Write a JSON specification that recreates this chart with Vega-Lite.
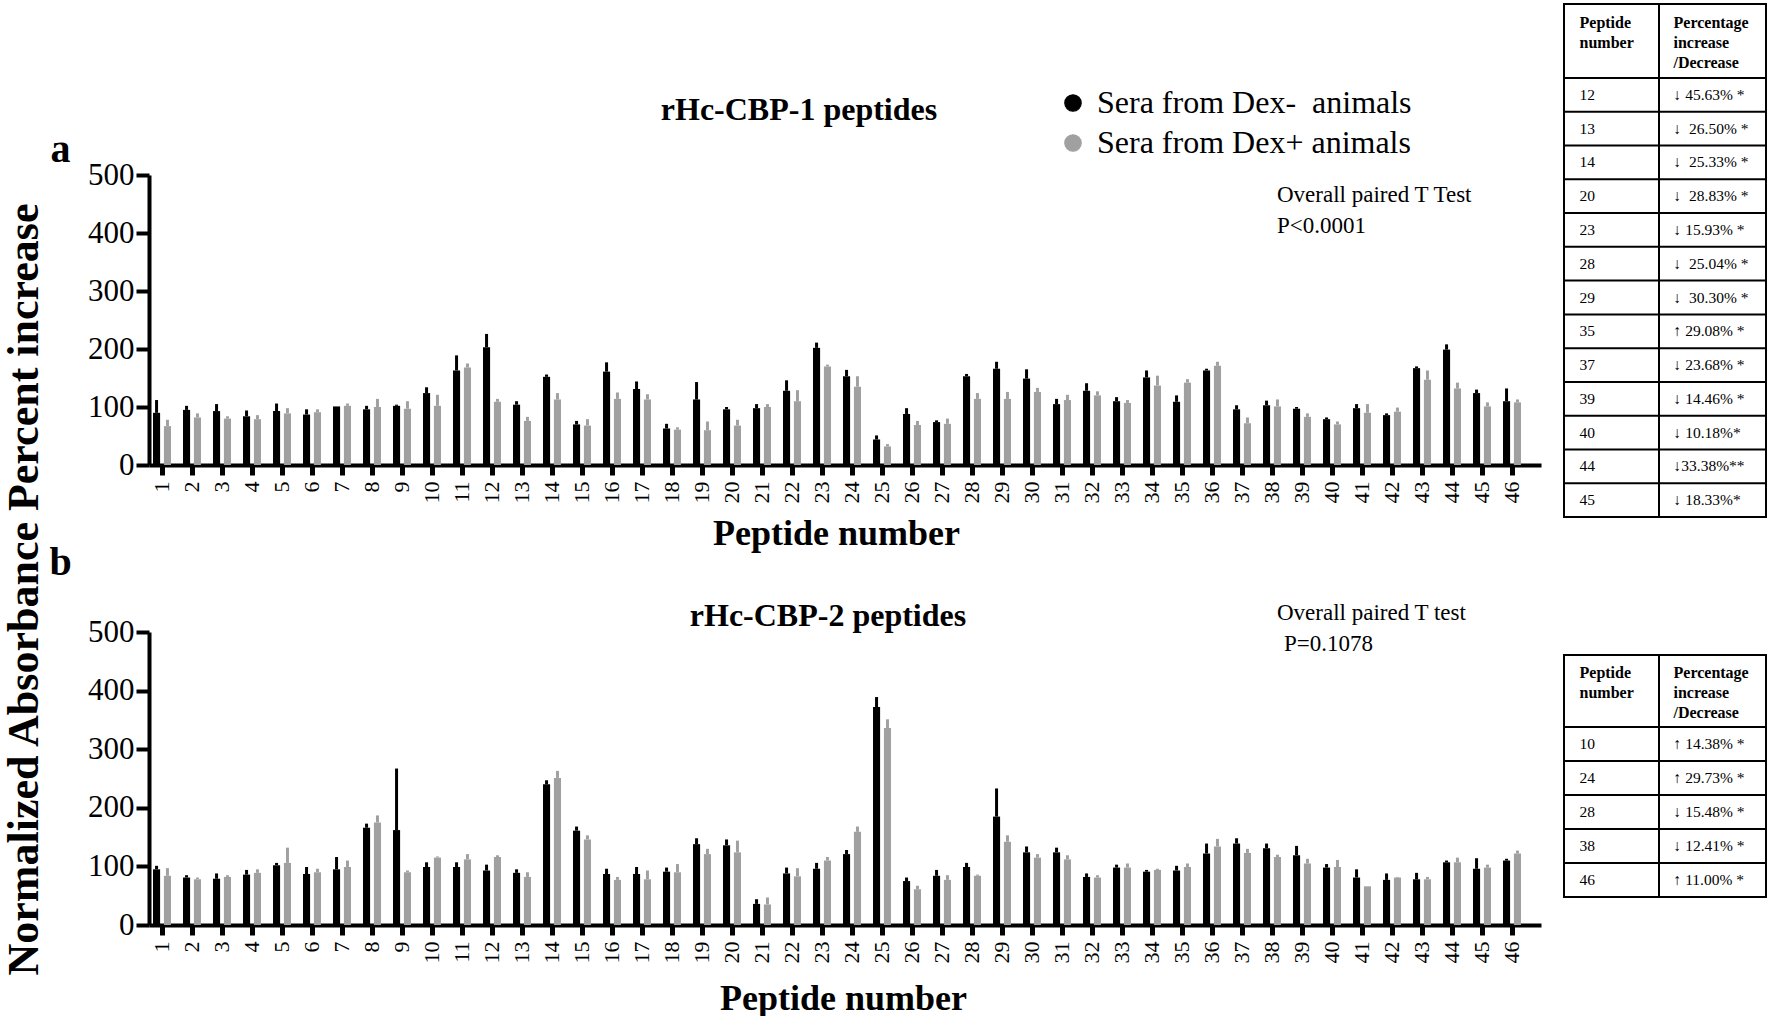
{
  "$schema": "https://vega.github.io/schema/vega-lite/v6.json",
  "background": "white",
  "padding": {"left": 2, "top": 3, "right": 0, "bottom": 0},
  "title": {"text": "Normalized Absorbance Percent increase", "orient": "left", "anchor": "middle", "fontSize": 44, "font": "Liberation Serif", "fontWeight": "bold", "offset": 2, "dx": -80, "color": "black"},
  "config": {
    "view": {"stroke": null},
    "axis": {"domainColor": "black", "tickColor": "black", "labelColor": "black", "titleColor": "black", "labelFont": "Liberation Serif", "titleFont": "Liberation Serif", "grid": false},
    "text": {"font": "Liberation Serif", "color": "black"},
    "legend": {"labelFont": "Liberation Serif", "labelColor": "black"}
  },
  "datasets": {
    "bars": [
      {"panel":"a","peptide":1,"serum":"Dex-","value":90,"upper":112},{"panel":"a","peptide":1,"serum":"Dex+","value":67,"upper":78},
      {"panel":"a","peptide":2,"serum":"Dex-","value":95,"upper":102},{"panel":"a","peptide":2,"serum":"Dex+","value":82,"upper":89},
      {"panel":"a","peptide":3,"serum":"Dex-","value":93,"upper":105},{"panel":"a","peptide":3,"serum":"Dex+","value":80,"upper":84},
      {"panel":"a","peptide":4,"serum":"Dex-","value":84,"upper":94},{"panel":"a","peptide":4,"serum":"Dex+","value":79,"upper":86},
      {"panel":"a","peptide":5,"serum":"Dex-","value":93,"upper":106},{"panel":"a","peptide":5,"serum":"Dex+","value":89,"upper":98},
      {"panel":"a","peptide":6,"serum":"Dex-","value":87,"upper":96},{"panel":"a","peptide":6,"serum":"Dex+","value":91,"upper":96},
      {"panel":"a","peptide":7,"serum":"Dex-","value":101,"upper":101},{"panel":"a","peptide":7,"serum":"Dex+","value":102,"upper":106},
      {"panel":"a","peptide":8,"serum":"Dex-","value":96,"upper":102},{"panel":"a","peptide":8,"serum":"Dex+","value":100,"upper":114},
      {"panel":"a","peptide":9,"serum":"Dex-","value":102,"upper":104},{"panel":"a","peptide":9,"serum":"Dex+","value":97,"upper":110},
      {"panel":"a","peptide":10,"serum":"Dex-","value":124,"upper":134},{"panel":"a","peptide":10,"serum":"Dex+","value":102,"upper":121},
      {"panel":"a","peptide":11,"serum":"Dex-","value":163,"upper":189},{"panel":"a","peptide":11,"serum":"Dex+","value":168,"upper":175},
      {"panel":"a","peptide":12,"serum":"Dex-","value":203,"upper":226},{"panel":"a","peptide":12,"serum":"Dex+","value":109,"upper":114},
      {"panel":"a","peptide":13,"serum":"Dex-","value":104,"upper":110},{"panel":"a","peptide":13,"serum":"Dex+","value":76,"upper":83},
      {"panel":"a","peptide":14,"serum":"Dex-","value":152,"upper":156},{"panel":"a","peptide":14,"serum":"Dex+","value":113,"upper":124},
      {"panel":"a","peptide":15,"serum":"Dex-","value":70,"upper":76},{"panel":"a","peptide":15,"serum":"Dex+","value":68,"upper":79},
      {"panel":"a","peptide":16,"serum":"Dex-","value":161,"upper":177},{"panel":"a","peptide":16,"serum":"Dex+","value":114,"upper":125},
      {"panel":"a","peptide":17,"serum":"Dex-","value":131,"upper":144},{"panel":"a","peptide":17,"serum":"Dex+","value":113,"upper":122},
      {"panel":"a","peptide":18,"serum":"Dex-","value":63,"upper":71},{"panel":"a","peptide":18,"serum":"Dex+","value":61,"upper":65},
      {"panel":"a","peptide":19,"serum":"Dex-","value":113,"upper":143},{"panel":"a","peptide":19,"serum":"Dex+","value":60,"upper":75},
      {"panel":"a","peptide":20,"serum":"Dex-","value":96,"upper":100},{"panel":"a","peptide":20,"serum":"Dex+","value":68,"upper":78},
      {"panel":"a","peptide":21,"serum":"Dex-","value":98,"upper":105},{"panel":"a","peptide":21,"serum":"Dex+","value":100,"upper":105},
      {"panel":"a","peptide":22,"serum":"Dex-","value":128,"upper":146},{"panel":"a","peptide":22,"serum":"Dex+","value":110,"upper":129},
      {"panel":"a","peptide":23,"serum":"Dex-","value":202,"upper":211},{"panel":"a","peptide":23,"serum":"Dex+","value":170,"upper":173},
      {"panel":"a","peptide":24,"serum":"Dex-","value":153,"upper":164},{"panel":"a","peptide":24,"serum":"Dex+","value":135,"upper":153},
      {"panel":"a","peptide":25,"serum":"Dex-","value":44,"upper":51},{"panel":"a","peptide":25,"serum":"Dex+","value":32,"upper":36},
      {"panel":"a","peptide":26,"serum":"Dex-","value":88,"upper":98},{"panel":"a","peptide":26,"serum":"Dex+","value":69,"upper":76},
      {"panel":"a","peptide":27,"serum":"Dex-","value":74,"upper":77},{"panel":"a","peptide":27,"serum":"Dex+","value":71,"upper":80},
      {"panel":"a","peptide":28,"serum":"Dex-","value":153,"upper":157},{"panel":"a","peptide":28,"serum":"Dex+","value":114,"upper":124},
      {"panel":"a","peptide":29,"serum":"Dex-","value":166,"upper":178},{"panel":"a","peptide":29,"serum":"Dex+","value":114,"upper":126},
      {"panel":"a","peptide":30,"serum":"Dex-","value":149,"upper":165},{"panel":"a","peptide":30,"serum":"Dex+","value":126,"upper":133},
      {"panel":"a","peptide":31,"serum":"Dex-","value":105,"upper":114},{"panel":"a","peptide":31,"serum":"Dex+","value":112,"upper":121},
      {"panel":"a","peptide":32,"serum":"Dex-","value":128,"upper":141},{"panel":"a","peptide":32,"serum":"Dex+","value":120,"upper":127},
      {"panel":"a","peptide":33,"serum":"Dex-","value":110,"upper":117},{"panel":"a","peptide":33,"serum":"Dex+","value":107,"upper":112},
      {"panel":"a","peptide":34,"serum":"Dex-","value":151,"upper":163},{"panel":"a","peptide":34,"serum":"Dex+","value":137,"upper":154},
      {"panel":"a","peptide":35,"serum":"Dex-","value":109,"upper":120},{"panel":"a","peptide":35,"serum":"Dex+","value":142,"upper":148},
      {"panel":"a","peptide":36,"serum":"Dex-","value":163,"upper":166},{"panel":"a","peptide":36,"serum":"Dex+","value":171,"upper":178},
      {"panel":"a","peptide":37,"serum":"Dex-","value":96,"upper":103},{"panel":"a","peptide":37,"serum":"Dex+","value":72,"upper":82},
      {"panel":"a","peptide":38,"serum":"Dex-","value":103,"upper":111},{"panel":"a","peptide":38,"serum":"Dex+","value":101,"upper":113},
      {"panel":"a","peptide":39,"serum":"Dex-","value":97,"upper":100},{"panel":"a","peptide":39,"serum":"Dex+","value":83,"upper":89},
      {"panel":"a","peptide":40,"serum":"Dex-","value":79,"upper":82},{"panel":"a","peptide":40,"serum":"Dex+","value":70,"upper":75},
      {"panel":"a","peptide":41,"serum":"Dex-","value":98,"upper":105},{"panel":"a","peptide":41,"serum":"Dex+","value":90,"upper":105},
      {"panel":"a","peptide":42,"serum":"Dex-","value":86,"upper":89},{"panel":"a","peptide":42,"serum":"Dex+","value":92,"upper":99},
      {"panel":"a","peptide":43,"serum":"Dex-","value":167,"upper":170},{"panel":"a","peptide":43,"serum":"Dex+","value":147,"upper":163},
      {"panel":"a","peptide":44,"serum":"Dex-","value":199,"upper":208},{"panel":"a","peptide":44,"serum":"Dex+","value":132,"upper":142},
      {"panel":"a","peptide":45,"serum":"Dex-","value":124,"upper":130},{"panel":"a","peptide":45,"serum":"Dex+","value":101,"upper":108},
      {"panel":"a","peptide":46,"serum":"Dex-","value":110,"upper":132},{"panel":"a","peptide":46,"serum":"Dex+","value":108,"upper":113},
      {"panel":"b","peptide":1,"serum":"Dex-","value":95,"upper":101},{"panel":"b","peptide":1,"serum":"Dex+","value":84,"upper":97},
      {"panel":"b","peptide":2,"serum":"Dex-","value":81,"upper":85},{"panel":"b","peptide":2,"serum":"Dex+","value":78,"upper":81},
      {"panel":"b","peptide":3,"serum":"Dex-","value":79,"upper":88},{"panel":"b","peptide":3,"serum":"Dex+","value":82,"upper":85},
      {"panel":"b","peptide":4,"serum":"Dex-","value":86,"upper":94},{"panel":"b","peptide":4,"serum":"Dex+","value":89,"upper":95},
      {"panel":"b","peptide":5,"serum":"Dex-","value":102,"upper":106},{"panel":"b","peptide":5,"serum":"Dex+","value":106,"upper":132},
      {"panel":"b","peptide":6,"serum":"Dex-","value":87,"upper":99},{"panel":"b","peptide":6,"serum":"Dex+","value":90,"upper":96},
      {"panel":"b","peptide":7,"serum":"Dex-","value":95,"upper":116},{"panel":"b","peptide":7,"serum":"Dex+","value":99,"upper":110},
      {"panel":"b","peptide":8,"serum":"Dex-","value":166,"upper":173},{"panel":"b","peptide":8,"serum":"Dex+","value":175,"upper":187},
      {"panel":"b","peptide":9,"serum":"Dex-","value":162,"upper":267},{"panel":"b","peptide":9,"serum":"Dex+","value":90,"upper":93},
      {"panel":"b","peptide":10,"serum":"Dex-","value":99,"upper":107},{"panel":"b","peptide":10,"serum":"Dex+","value":115,"upper":117},
      {"panel":"b","peptide":11,"serum":"Dex-","value":99,"upper":107},{"panel":"b","peptide":11,"serum":"Dex+","value":112,"upper":121},
      {"panel":"b","peptide":12,"serum":"Dex-","value":93,"upper":103},{"panel":"b","peptide":12,"serum":"Dex+","value":116,"upper":119},
      {"panel":"b","peptide":13,"serum":"Dex-","value":89,"upper":95},{"panel":"b","peptide":13,"serum":"Dex+","value":82,"upper":90},
      {"panel":"b","peptide":14,"serum":"Dex-","value":240,"upper":247},{"panel":"b","peptide":14,"serum":"Dex+","value":251,"upper":263},
      {"panel":"b","peptide":15,"serum":"Dex-","value":161,"upper":168},{"panel":"b","peptide":15,"serum":"Dex+","value":146,"upper":153},
      {"panel":"b","peptide":16,"serum":"Dex-","value":87,"upper":96},{"panel":"b","peptide":16,"serum":"Dex+","value":77,"upper":82},
      {"panel":"b","peptide":17,"serum":"Dex-","value":87,"upper":99},{"panel":"b","peptide":17,"serum":"Dex+","value":78,"upper":93},
      {"panel":"b","peptide":18,"serum":"Dex-","value":91,"upper":98},{"panel":"b","peptide":18,"serum":"Dex+","value":90,"upper":104},
      {"panel":"b","peptide":19,"serum":"Dex-","value":138,"upper":148},{"panel":"b","peptide":19,"serum":"Dex+","value":121,"upper":130},
      {"panel":"b","peptide":20,"serum":"Dex-","value":136,"upper":146},{"panel":"b","peptide":20,"serum":"Dex+","value":124,"upper":144},
      {"panel":"b","peptide":21,"serum":"Dex-","value":36,"upper":44},{"panel":"b","peptide":21,"serum":"Dex+","value":35,"upper":47},
      {"panel":"b","peptide":22,"serum":"Dex-","value":88,"upper":98},{"panel":"b","peptide":22,"serum":"Dex+","value":83,"upper":97},
      {"panel":"b","peptide":23,"serum":"Dex-","value":96,"upper":106},{"panel":"b","peptide":23,"serum":"Dex+","value":110,"upper":116},
      {"panel":"b","peptide":24,"serum":"Dex-","value":121,"upper":128},{"panel":"b","peptide":24,"serum":"Dex+","value":159,"upper":168},
      {"panel":"b","peptide":25,"serum":"Dex-","value":372,"upper":389},{"panel":"b","peptide":25,"serum":"Dex+","value":336,"upper":351},
      {"panel":"b","peptide":26,"serum":"Dex-","value":75,"upper":81},{"panel":"b","peptide":26,"serum":"Dex+","value":61,"upper":67},
      {"panel":"b","peptide":27,"serum":"Dex-","value":84,"upper":94},{"panel":"b","peptide":27,"serum":"Dex+","value":77,"upper":85},
      {"panel":"b","peptide":28,"serum":"Dex-","value":99,"upper":106},{"panel":"b","peptide":28,"serum":"Dex+","value":84,"upper":86},
      {"panel":"b","peptide":29,"serum":"Dex-","value":185,"upper":233},{"panel":"b","peptide":29,"serum":"Dex+","value":142,"upper":153},
      {"panel":"b","peptide":30,"serum":"Dex-","value":124,"upper":134},{"panel":"b","peptide":30,"serum":"Dex+","value":115,"upper":121},
      {"panel":"b","peptide":31,"serum":"Dex-","value":124,"upper":132},{"panel":"b","peptide":31,"serum":"Dex+","value":112,"upper":119},
      {"panel":"b","peptide":32,"serum":"Dex-","value":82,"upper":88},{"panel":"b","peptide":32,"serum":"Dex+","value":81,"upper":85},
      {"panel":"b","peptide":33,"serum":"Dex-","value":98,"upper":103},{"panel":"b","peptide":33,"serum":"Dex+","value":98,"upper":105},
      {"panel":"b","peptide":34,"serum":"Dex-","value":91,"upper":94},{"panel":"b","peptide":34,"serum":"Dex+","value":94,"upper":96},
      {"panel":"b","peptide":35,"serum":"Dex-","value":93,"upper":101},{"panel":"b","peptide":35,"serum":"Dex+","value":99,"upper":105},
      {"panel":"b","peptide":36,"serum":"Dex-","value":122,"upper":139},{"panel":"b","peptide":36,"serum":"Dex+","value":134,"upper":147},
      {"panel":"b","peptide":37,"serum":"Dex-","value":139,"upper":148},{"panel":"b","peptide":37,"serum":"Dex+","value":123,"upper":130},
      {"panel":"b","peptide":38,"serum":"Dex-","value":131,"upper":139},{"panel":"b","peptide":38,"serum":"Dex+","value":116,"upper":120},
      {"panel":"b","peptide":39,"serum":"Dex-","value":119,"upper":135},{"panel":"b","peptide":39,"serum":"Dex+","value":105,"upper":113},
      {"panel":"b","peptide":40,"serum":"Dex-","value":98,"upper":104},{"panel":"b","peptide":40,"serum":"Dex+","value":99,"upper":111},
      {"panel":"b","peptide":41,"serum":"Dex-","value":81,"upper":95},{"panel":"b","peptide":41,"serum":"Dex+","value":66,"upper":66},
      {"panel":"b","peptide":42,"serum":"Dex-","value":77,"upper":88},{"panel":"b","peptide":42,"serum":"Dex+","value":81,"upper":82},
      {"panel":"b","peptide":43,"serum":"Dex-","value":78,"upper":89},{"panel":"b","peptide":43,"serum":"Dex+","value":78,"upper":82},
      {"panel":"b","peptide":44,"serum":"Dex-","value":107,"upper":110},{"panel":"b","peptide":44,"serum":"Dex+","value":107,"upper":115},
      {"panel":"b","peptide":45,"serum":"Dex-","value":96,"upper":114},{"panel":"b","peptide":45,"serum":"Dex+","value":98,"upper":103},
      {"panel":"b","peptide":46,"serum":"Dex-","value":110,"upper":113},{"panel":"b","peptide":46,"serum":"Dex+","value":122,"upper":127}
    ],
    "tableA": [
      {"peptide":"12","change":"↓ 45.63% *"},{"peptide":"13","change":"↓\u00a0 26.50% *"},{"peptide":"14","change":"↓\u00a0 25.33% *"},
      {"peptide":"20","change":"↓\u00a0 28.83% *"},{"peptide":"23","change":"↓ 15.93% *"},{"peptide":"28","change":"↓\u00a0 25.04% *"},
      {"peptide":"29","change":"↓\u00a0 30.30% *"},{"peptide":"35","change":"↑ 29.08% *"},{"peptide":"37","change":"↓ 23.68% *"},
      {"peptide":"39","change":"↓ 14.46% *"},{"peptide":"40","change":"↓ 10.18%*"},{"peptide":"44","change":"↓33.38%**"},
      {"peptide":"45","change":"↓ 18.33%*"}
    ],
    "tableB": [
      {"peptide":"10","change":"↑ 14.38% *"},{"peptide":"24","change":"↑ 29.73% *"},{"peptide":"28","change":"↓ 15.48% *"},
      {"peptide":"38","change":"↓ 12.41% *"},{"peptide":"46","change":"↑ 11.00% *"}
    ]
  },
  "spacing": 21,
  "hconcat": [
    {
      "vconcat": [
        {"width": 1392, "height": 4, "data": {"values": []}, "mark": {"type": "point"}},
        {
          "width": 1392, "height": 290,
          "layer": [
            {
              "data": {"name": "bars"}, "transform": [{"filter": "datum.panel == 'a'"}],
              "mark": {"type": "bar"},
              "encoding": {
                "x": {"field": "peptide", "type": "ordinal", "title": "Peptide number",
                      "scale": {"paddingInner": 0.4, "paddingOuter": 0.4, "align": 0.167},
                      "axis": {"labelAngle": -90, "labelFontSize": 22, "labelPadding": 6, "tickSize": 10, "tickWidth": 5, "domainWidth": 4, "titleFontSize": 36, "titleFontWeight": "bold", "titleX": 687, "titleY": 68, "titleAlign": "center", "titleBaseline": "middle"}},
                "xOffset": {"field": "serum", "type": "nominal", "scale": {"domain": ["Dex-", "Dex+"], "paddingInner": 0.35, "paddingOuter": 0}},
                "y": {"field": "value", "type": "quantitative", "title": "a",
                      "scale": {"domain": [0, 500], "nice": false},
                      "axis": {"values": [0, 100, 200, 300, 400, 500], "labelFontSize": 31, "labelPadding": 2, "tickSize": 13, "tickWidth": 4, "domainWidth": 4, "titleAngle": 0, "titleX": -89, "titleY": -26, "titleAlign": "center", "titleBaseline": "middle", "titleFontSize": 40, "titleFontWeight": "bold"}},
                "color": {"field": "serum", "type": "nominal",
                          "scale": {"domain": ["Dex-", "Dex+"], "range": ["#000000", "#a0a0a0"]},
                          "legend": {"orient": "none", "legendX": 908, "legendY": -88, "padding": 0, "title": null, "labelFontSize": 32, "labelLimit": 600, "symbolType": "circle", "symbolSize": 270, "symbolStrokeColor": "#222222", "symbolStrokeWidth": 1.2, "rowPadding": 8, "labelOffset": 8,
                                     "labelExpr": "datum.label == 'Dex-' ? 'Sera from Dex-\u00a0 animals' : 'Sera from Dex+ animals'"}}
              }
            },
            {
              "data": {"name": "bars"}, "transform": [{"filter": "datum.panel == 'a'"}],
              "mark": {"type": "rule", "strokeWidth": 3},
              "encoding": {
                "x": {"field": "peptide", "type": "ordinal", "title": "Peptide number"},
                "xOffset": {"field": "serum", "type": "nominal"},
                "y": {"field": "value", "type": "quantitative", "title": "a"},
                "y2": {"field": "upper"},
                "color": {"field": "serum", "type": "nominal"}
              }
            },
            {
              "data": {"values": [{"label": "Overall paired T Test\nP<0.0001"}]},
              "mark": {"type": "text", "align": "left", "baseline": "alphabetic", "dx": 5, "fontSize": 23, "lineBreak": "\n", "lineHeight": 31},
              "encoding": {
                "x": {"datum": 38, "type": "ordinal"},
                "y": {"datum": 454, "type": "quantitative"},
                "text": {"field": "label"}
              }
            },
            {
              "data": {"values": [{"label": "rHc-CBP-1 peptides"}]},
              "mark": {"type": "text", "align": "center", "baseline": "middle", "dx": 7, "fontSize": 32, "fontWeight": "bold"},
              "encoding": {
                "x": {"datum": 22, "type": "ordinal"},
                "y": {"datum": 612, "type": "quantitative"},
                "text": {"field": "label"}
              }
            }
          ]
        },
        {
          "width": 1392, "height": 293,
          "layer": [
            {
              "data": {"name": "bars"}, "transform": [{"filter": "datum.panel == 'b'"}],
              "mark": {"type": "bar"},
              "encoding": {
                "x": {"field": "peptide", "type": "ordinal", "title": "Peptide number",
                      "scale": {"paddingInner": 0.4, "paddingOuter": 0.4, "align": 0.167},
                      "axis": {"labelAngle": -90, "labelFontSize": 22, "labelPadding": 6, "tickSize": 10, "tickWidth": 5, "domainWidth": 4, "titleFontSize": 36, "titleFontWeight": "bold", "titleX": 694, "titleY": 73, "titleAlign": "center", "titleBaseline": "middle"}},
                "xOffset": {"field": "serum", "type": "nominal", "scale": {"domain": ["Dex-", "Dex+"], "paddingInner": 0.35, "paddingOuter": 0}},
                "y": {"field": "value", "type": "quantitative", "title": "b",
                      "scale": {"domain": [0, 500], "nice": false},
                      "axis": {"values": [0, 100, 200, 300, 400, 500], "labelFontSize": 31, "labelPadding": 2, "tickSize": 13, "tickWidth": 4, "domainWidth": 4, "titleAngle": 0, "titleX": -89, "titleY": -70, "titleAlign": "center", "titleBaseline": "middle", "titleFontSize": 40, "titleFontWeight": "bold"}},
                "color": {"field": "serum", "type": "nominal",
                          "scale": {"domain": ["Dex-", "Dex+"], "range": ["#000000", "#a0a0a0"]},
                          "legend": null}
              }
            },
            {
              "data": {"name": "bars"}, "transform": [{"filter": "datum.panel == 'b'"}],
              "mark": {"type": "rule", "strokeWidth": 3},
              "encoding": {
                "x": {"field": "peptide", "type": "ordinal", "title": "Peptide number"},
                "xOffset": {"field": "serum", "type": "nominal"},
                "y": {"field": "value", "type": "quantitative", "title": "b"},
                "y2": {"field": "upper"},
                "color": {"field": "serum", "type": "nominal", "legend": null}
              }
            },
            {
              "data": {"values": [{"label": "Overall paired T test"}]},
              "mark": {"type": "text", "align": "left", "baseline": "alphabetic", "dx": 5, "fontSize": 23},
              "encoding": {
                "x": {"datum": 38, "type": "ordinal"},
                "y": {"datum": 521, "type": "quantitative"},
                "text": {"field": "label"}
              }
            },
            {
              "data": {"values": [{"label": "P=0.1078"}]},
              "mark": {"type": "text", "align": "left", "baseline": "alphabetic", "dx": 12, "fontSize": 23},
              "encoding": {
                "x": {"datum": 38, "type": "ordinal"},
                "y": {"datum": 468, "type": "quantitative"},
                "text": {"field": "label"}
              }
            },
            {
              "data": {"values": [{"label": "rHc-CBP-2 peptides"}]},
              "mark": {"type": "text", "align": "center", "baseline": "middle", "dx": 6, "fontSize": 32, "fontWeight": "bold"},
              "encoding": {
                "x": {"datum": 23, "type": "ordinal"},
                "y": {"datum": 527, "type": "quantitative"},
                "text": {"field": "label"}
              }
            }
          ]
        }
      ],
      "spacing": 167,
      "bounds": "flush",
      "resolve": {"scale": {"color": "independent"}, "legend": {"color": "independent"}}
    },
    {
      "spacing": 136,
      "vconcat": [
        {
          "columns": 2, "spacing": 0, "bounds": "flush", "align": "each",
          "concat": [
            {"width": 95, "height": 74, "view": {"stroke": "black", "strokeWidth": 2},
             "data": {"values": [{"t": "Peptide\nnumber"}]},
             "mark": {"type": "text", "align": "left", "baseline": "middle", "dx": -32, "dy": -18, "lineBreak": "\n", "lineHeight": 20, "fontSize": 16, "fontWeight": "bold"},
             "encoding": {"text": {"field": "t"}}},
            {"width": 107, "height": 74, "view": {"stroke": "black", "strokeWidth": 2},
             "data": {"values": [{"t": "Percentage\nincrease\n/Decrease"}]},
             "mark": {"type": "text", "align": "left", "baseline": "middle", "dx": -39, "dy": -18, "lineBreak": "\n", "lineHeight": 20, "fontSize": 16, "fontWeight": "bold"},
             "encoding": {"text": {"field": "t"}}},
            {"width": 95, "height": 439, "view": {"stroke": "black", "strokeWidth": 2},
             "data": {"name": "tableA"},
             "layer": [
               {"mark": {"type": "rule", "color": "black", "strokeWidth": 2},
                "encoding": {"y": {"field": "peptide", "type": "nominal", "sort": null, "bandPosition": 0, "scale": {"type": "band", "paddingInner": 0, "paddingOuter": 0}, "axis": null}}},
               {"mark": {"type": "text", "align": "left", "baseline": "middle", "dx": -32, "fontSize": 15.5},
                "encoding": {"y": {"field": "peptide", "type": "nominal", "sort": null, "axis": null}, "text": {"field": "peptide"}}}
             ]},
            {"width": 107, "height": 439, "view": {"stroke": "black", "strokeWidth": 2},
             "data": {"name": "tableA"},
             "layer": [
               {"mark": {"type": "rule", "color": "black", "strokeWidth": 2},
                "encoding": {"y": {"field": "peptide", "type": "nominal", "sort": null, "bandPosition": 0, "scale": {"type": "band", "paddingInner": 0, "paddingOuter": 0}, "axis": null}}},
               {"mark": {"type": "text", "align": "left", "baseline": "middle", "dx": -39, "fontSize": 15.5},
                "encoding": {"y": {"field": "peptide", "type": "nominal", "sort": null, "axis": null}, "text": {"field": "change"}}}
             ]}
          ]
        },
        {
          "columns": 2, "spacing": 0, "bounds": "flush", "align": "each",
          "concat": [
            {"width": 95, "height": 72, "view": {"stroke": "black", "strokeWidth": 2},
             "data": {"values": [{"t": "Peptide\nnumber"}]},
             "mark": {"type": "text", "align": "left", "baseline": "middle", "dx": -32, "dy": -18, "lineBreak": "\n", "lineHeight": 20, "fontSize": 16, "fontWeight": "bold"},
             "encoding": {"text": {"field": "t"}}},
            {"width": 107, "height": 72, "view": {"stroke": "black", "strokeWidth": 2},
             "data": {"values": [{"t": "Percentage\nincrease\n/Decrease"}]},
             "mark": {"type": "text", "align": "left", "baseline": "middle", "dx": -39, "dy": -18, "lineBreak": "\n", "lineHeight": 20, "fontSize": 16, "fontWeight": "bold"},
             "encoding": {"text": {"field": "t"}}},
            {"width": 95, "height": 170, "view": {"stroke": "black", "strokeWidth": 2},
             "data": {"name": "tableB"},
             "layer": [
               {"mark": {"type": "rule", "color": "black", "strokeWidth": 2},
                "encoding": {"y": {"field": "peptide", "type": "nominal", "sort": null, "bandPosition": 0, "scale": {"type": "band", "paddingInner": 0, "paddingOuter": 0}, "axis": null}}},
               {"mark": {"type": "text", "align": "left", "baseline": "middle", "dx": -32, "fontSize": 15.5},
                "encoding": {"y": {"field": "peptide", "type": "nominal", "sort": null, "axis": null}, "text": {"field": "peptide"}}}
             ]},
            {"width": 107, "height": 170, "view": {"stroke": "black", "strokeWidth": 2},
             "data": {"name": "tableB"},
             "layer": [
               {"mark": {"type": "rule", "color": "black", "strokeWidth": 2},
                "encoding": {"y": {"field": "peptide", "type": "nominal", "sort": null, "bandPosition": 0, "scale": {"type": "band", "paddingInner": 0, "paddingOuter": 0}, "axis": null}}},
               {"mark": {"type": "text", "align": "left", "baseline": "middle", "dx": -39, "fontSize": 15.5},
                "encoding": {"y": {"field": "peptide", "type": "nominal", "sort": null, "axis": null}, "text": {"field": "change"}}}
             ]}
          ]
        }
      ]
    }
  ]
}
